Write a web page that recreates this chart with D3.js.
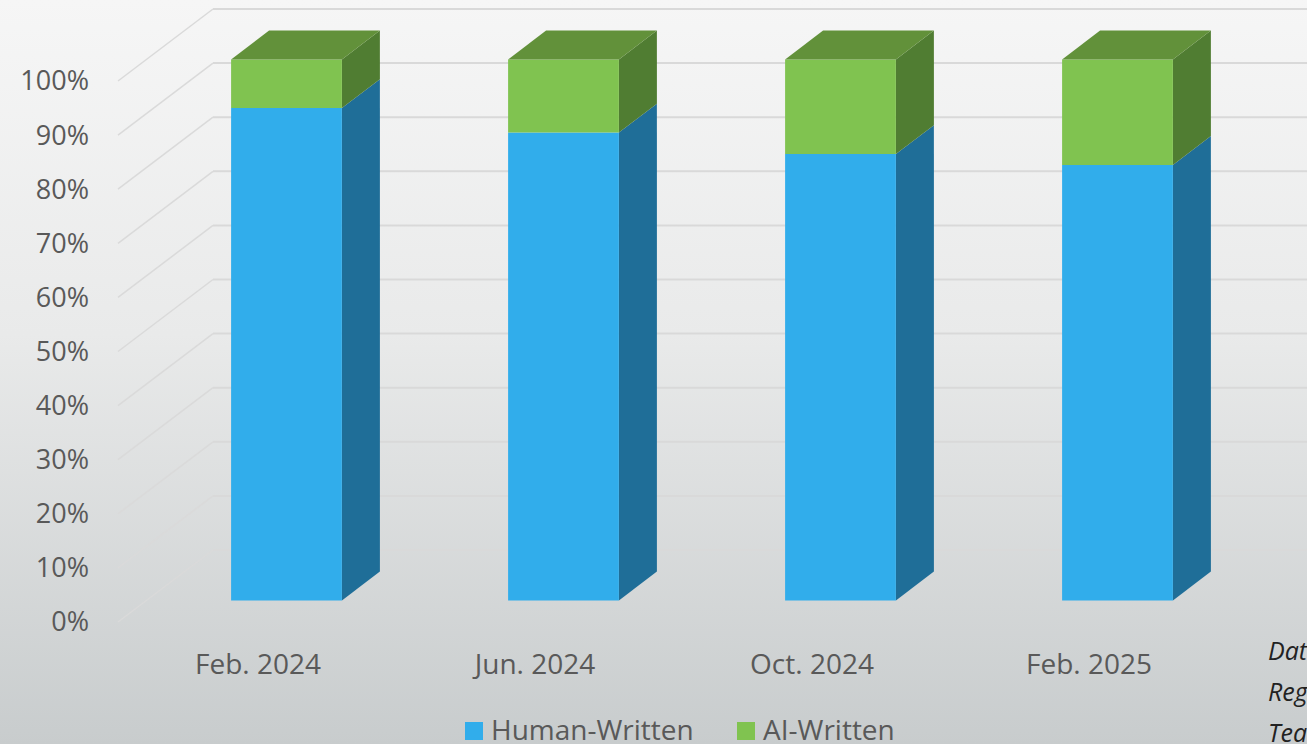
<!DOCTYPE html>
<html>
<head>
<meta charset="utf-8">
<script src="https://cdn.jsdelivr.net/npm/d3@7"></script>
<style>
  html, body { margin: 0; padding: 0; overflow: hidden; }
  body { width: 1307px; height: 744px; }
  text { font-family: "Open Sans", "Lato", sans-serif; }
</style>
</head>
<body>
<div id="chart"></div>
<script>
const width = 1307
const height = 744

// data (percent)
const categories = ['Feb. 2024', 'Jun. 2024', 'Oct. 2024', 'Feb. 2025']
const humanWritten = [91, 86.5, 82.5, 80.5]
const aiWritten = [9, 13.5, 17.5, 19.5]
const seriesNames = ['Human-Written', 'AI-Written']
const yTicks = [0, 10, 20, 30, 40, 50, 60, 70, 80, 90, 100]
const noteLines = ['Dat', 'Reg', 'Tea']

// 3d look: how far the back wall is pushed
const depthX = 95
const depthY = 72
const zFront = 0.3
const zBack = 0.7

const colors = {
    human: { front: '#31adeb', side: '#1f6e98', top: '#2a8fc4' },
    ai: { front: '#80c350', side: '#507d32', top: '#62913a' }
}

const svg = d3.select('#chart')
    .append('svg')
    .attr('width', width)
    .attr('height', height)

const defs = svg.append('defs')
const grad = defs.append('linearGradient')
    .attr('id', 'bg')
    .attr('x1', 0).attr('y1', 0).attr('x2', 0).attr('y2', 1)
grad.append('stop').attr('offset', '0%').attr('stop-color', '#f6f6f6')
grad.append('stop').attr('offset', '45%').attr('stop-color', '#e9eaea')
grad.append('stop').attr('offset', '100%').attr('stop-color', '#c8cccd')

svg.append('rect')
    .attr('width', width)
    .attr('height', height)
    .attr('fill', 'url(#bg)')

const xScale = d3.scaleBand()
    .domain(categories)
    .range([119.5, 1227.5])
    .paddingInner(0.6)
    .paddingOuter(0.3)

const yScale = d3.scaleLinear()
    .domain([0, 100])
    .range([622, 81])

const proj = (x, v, z) => [x + z * depthX, yScale(v) - z * depthY]
const poly = pts => pts.map(p => p.join(',')).join(' ')

// left wall diagonals + back wall lines
const x0 = xScale.range()[0] - 1.5
const grid = svg.append('g')
grid.selectAll('.diag')
    .data(yTicks)
    .enter()
    .append('line')
    .attr('x1', x0)
    .attr('y1', d => yScale(d))
    .attr('x2', x0 + depthX)
    .attr('y2', d => yScale(d) - depthY)
    .attr('stroke', '#dadada')
    .attr('stroke-width', 1.5)
grid.selectAll('.back')
    .data(yTicks)
    .enter()
    .append('line')
    .attr('x1', x0 + depthX)
    .attr('y1', d => yScale(d) - depthY)
    .attr('x2', width)
    .attr('y2', d => yScale(d) - depthY)
    .attr('stroke', '#d9d9d9')
    .attr('stroke-width', 2)

// y labels
svg.append('g')
    .selectAll('text')
    .data(yTicks)
    .enter()
    .append('text')
    .attr('x', 89)
    .attr('y', d => yScale(d))
    .attr('dy', '0.35em')
    .attr('text-anchor', 'end')
    .attr('font-size', 27)
    .attr('fill', '#595959')
    .text(d => d + '%')

// bars
const stacked = categories.map((c, i) => ({
    cat: c,
    parts: [
        { key: 'human', lo: 0, hi: humanWritten[i] },
        { key: 'ai', lo: humanWritten[i], hi: humanWritten[i] + aiWritten[i] }
    ]
}))

const bars = svg.append('g')
stacked.forEach(bar => {
    const xl = xScale(bar.cat)
    const xr = xl + xScale.bandwidth()
    bar.parts.forEach((p, j) => {
        const c = colors[p.key]
        bars.append('polygon')
            .attr('points', poly([proj(xr, p.lo, zFront), proj(xr, p.lo, zBack), proj(xr, p.hi, zBack), proj(xr, p.hi, zFront)]))
            .attr('fill', c.side)
        bars.append('polygon')
            .attr('points', poly([proj(xl, p.lo, zFront), proj(xr, p.lo, zFront), proj(xr, p.hi, zFront), proj(xl, p.hi, zFront)]))
            .attr('fill', c.front)
        if (j === bar.parts.length - 1) {
            bars.append('polygon')
                .attr('points', poly([proj(xl, p.hi, zFront), proj(xr, p.hi, zFront), proj(xr, p.hi, zBack), proj(xl, p.hi, zBack)]))
                .attr('fill', c.top)
        }
    })
})

// category labels
svg.append('g')
    .selectAll('text')
    .data(categories)
    .enter()
    .append('text')
    .attr('x', d => xScale(d) + xScale.bandwidth() / 2)
    .attr('y', 674)
    .attr('text-anchor', 'middle')
    .attr('font-size', 28)
    .attr('fill', '#595959')
    .text(d => d)

// legend
const legendX = [465, 737]
const legend = svg.append('g')
seriesNames.forEach((name, i) => {
    legend.append('rect')
        .attr('x', legendX[i])
        .attr('y', 722)
        .attr('width', 18)
        .attr('height', 18)
        .attr('fill', i === 0 ? colors.human.front : colors.ai.front)
    legend.append('text')
        .attr('x', legendX[i] + 26)
        .attr('y', 740)
        .attr('font-size', 28)
        .attr('fill', '#595959')
        .text(name)
})

// note at right edge, cut by the frame as in the original
svg.append('g')
    .selectAll('text')
    .data(noteLines)
    .enter()
    .append('text')
    .attr('x', 1268)
    .attr('y', (d, i) => 660 + i * 41)
    .attr('font-size', 25)
    .attr('font-style', 'italic')
    .attr('fill', '#222')
    .text(d => d)
</script>
</body>
</html>
